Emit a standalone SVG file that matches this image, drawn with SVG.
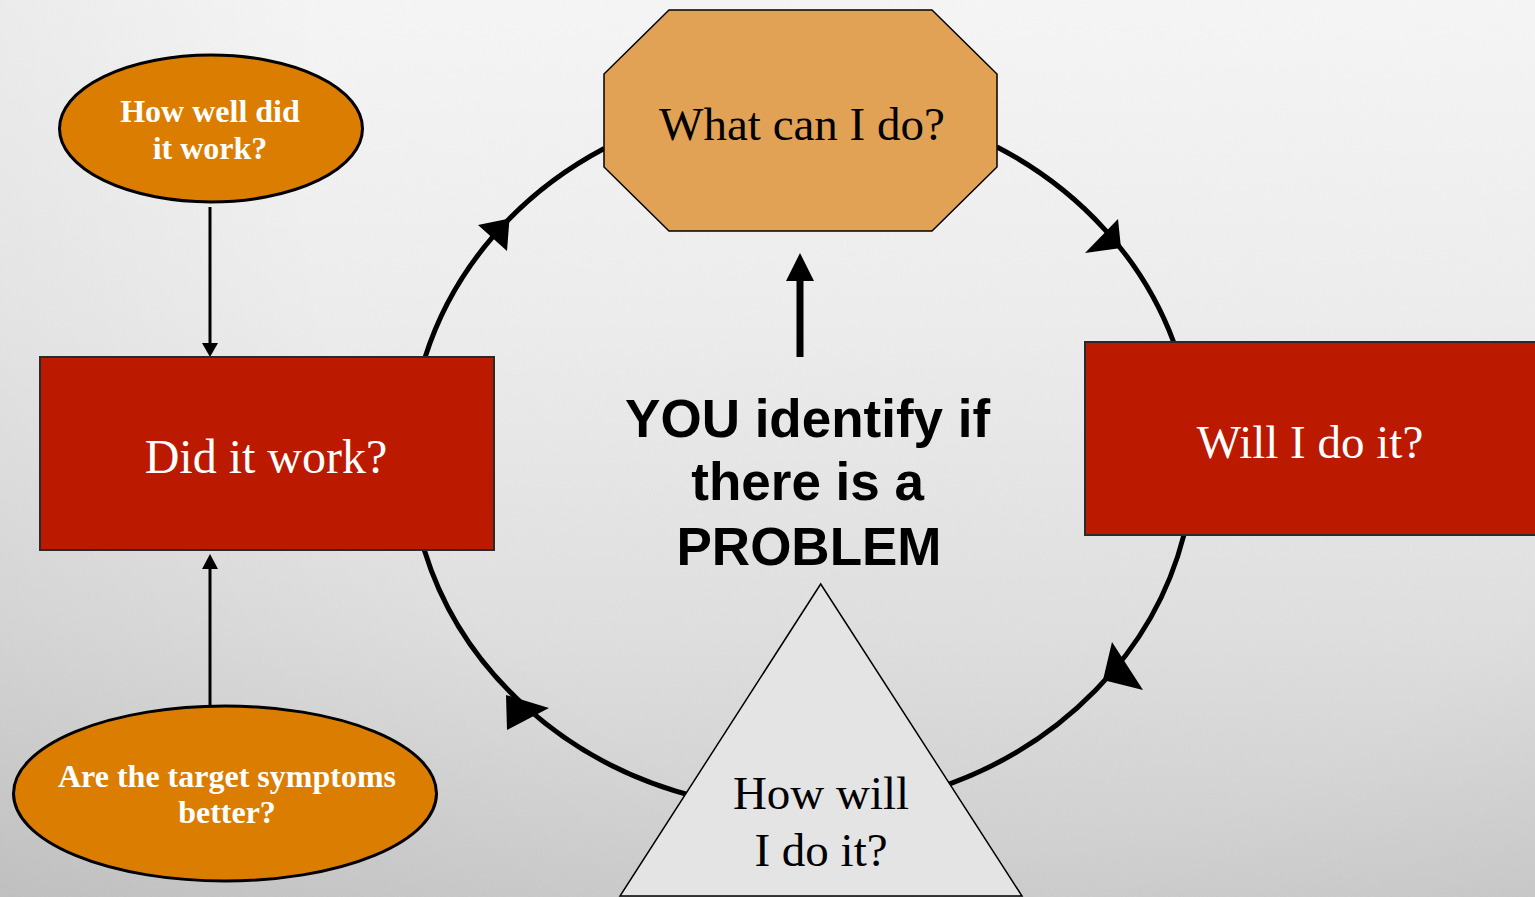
<svg xmlns="http://www.w3.org/2000/svg" width="1535" height="897" viewBox="0 0 1535 897">
  <defs>
    <linearGradient id="paper" x1="0" y1="0" x2="0" y2="897" gradientUnits="userSpaceOnUse">
      <stop offset="0" stop-color="#f8f8f8"/>
      <stop offset="0.35" stop-color="#efefef"/>
      <stop offset="0.7" stop-color="#e0e0e0"/>
      <stop offset="1" stop-color="#cdcdcd"/>
    </linearGradient>
    <radialGradient id="vignette" cx="1000" cy="150" r="1250" gradientUnits="userSpaceOnUse">
      <stop offset="0.55" stop-color="#000" stop-opacity="0"/>
      <stop offset="1" stop-color="#000" stop-opacity="0.07"/>
    </radialGradient>
    <filter id="grain" x="0" y="0" width="100%" height="100%">
      <feTurbulence type="fractalNoise" baseFrequency="0.85" numOctaves="2" seed="7" result="n"/>
      <feColorMatrix in="n" type="matrix" values="0.33 0.33 0.33 0 0.1  0.33 0.33 0.33 0 0.1  0.33 0.33 0.33 0 0.1  0 0 0 0 0.08"/>
    </filter>
    <style>
      .arc { fill: none; stroke: #000; stroke-width: 5; }
      .head { fill: #000; }
      .link { stroke: #000; stroke-width: 3; }
      .serif { font-family: "Liberation Serif", "Times New Roman", serif; text-anchor: middle; }
      .big { font-size: 47px; }
      .oval { fill: #db7d00; stroke: #000; stroke-width: 3; }
      .oval-text { font-family: "Liberation Serif", "Times New Roman", serif; font-weight: bold; font-size: 32px; fill: #fff; text-anchor: middle; }
      .red { fill: #bc1a00; stroke: #2a2a2a; stroke-width: 2; }
    </style>
  </defs>

  <!-- paper background -->
  <rect width="1535" height="897" fill="url(#paper)"/>
  <rect width="1535" height="897" fill="url(#vignette)"/>
  <rect width="1535" height="897" filter="url(#grain)"/>

  <!-- connectors -->
  <g id="connectors">
    <!-- cycle arcs on one ellipse: centre (802,455), radii 392 x 355, clockwise -->
    <path class="arc" d="M 425.2 357 A 392 355 0 0 1 604.2 148.5"/>
    <polygon class="head" points="478,225 507,251 509.5,218.5"/>

    <path class="arc" d="M 997 147 A 392 355 0 0 1 1173.6 342"/>
    <polygon class="head" points="1118,219 1085,253 1121,248"/>

    <path class="arc" d="M 1183.9 535 A 392 355 0 0 1 936.1 788.6"/>
    <polygon class="head" points="1112,642 1143,690 1103,680"/>

    <path class="arc" d="M 700.5 797.9 A 392 355 0 0 1 424.3 550"/>
    <polygon class="head" points="549,708 507,730 506,695"/>

    <!-- side links into "Did it work?" -->
    <line class="link" x1="210" y1="207" x2="210" y2="344"/>
    <polygon class="head" points="202,343 218,343 210,357"/>
    <line class="link" x1="210" y1="705" x2="210" y2="567"/>
    <polygon class="head" points="202,569 218,569 210,554"/>

    <!-- centre arrow up to "What can I do?" -->
    <line stroke="#000" stroke-width="7" x1="800" y1="357" x2="800" y2="278"/>
    <polygon class="head" points="786,281 814,281 800,253"/>
  </g>

  <!-- nodes -->
  <g id="what-can-i-do">
    <polygon points="669,10 932,10 997,74 997,167 932,231 669,231 604,167 604,74" fill="#e1a256" stroke="#000" stroke-width="1.5"/>
    <text class="serif big" x="802" y="140" fill="#000">What can I do?</text>
  </g>

  <g id="will-i-do-it">
    <rect class="red" x="1085" y="342" width="455" height="193"/>
    <text class="serif big" x="1310" y="458" fill="#fff">Will I do it?</text>
  </g>

  <g id="how-will-i-do-it">
    <polygon points="820.7,584 1022,896 620,896" fill="#e4e4e4" stroke="#000" stroke-width="1.5"/>
    <text class="serif big" x="821" y="809" fill="#000">How will</text>
    <text class="serif big" x="821" y="866" fill="#000">I do it?</text>
  </g>

  <g id="did-it-work">
    <rect class="red" x="40" y="357" width="454" height="193"/>
    <text class="serif" x="266" y="473" font-size="48" fill="#fff">Did it work?</text>
  </g>

  <g id="how-well-did-it-work">
    <ellipse class="oval" cx="211" cy="128.5" rx="151.5" ry="73.5"/>
    <text class="oval-text" x="210" y="122">How well did</text>
    <text class="oval-text" x="210" y="159">it work?</text>
  </g>

  <g id="target-symptoms">
    <ellipse class="oval" cx="225" cy="793.5" rx="211.5" ry="87.5"/>
    <text class="oval-text" x="227" y="787">Are the target symptoms</text>
    <text class="oval-text" x="227" y="823">better?</text>
  </g>

  <g id="problem">
    <text font-family="'Liberation Sans', Arial, sans-serif" font-weight="bold" font-size="53" text-anchor="middle" fill="#000">
      <tspan x="815" y="437">YOU identify if</tspan>
      <tspan x="815" y="500">there is a</tspan>
      <tspan x="809" y="565">PROBLEM</tspan>
    </text>
  </g>
</svg>
